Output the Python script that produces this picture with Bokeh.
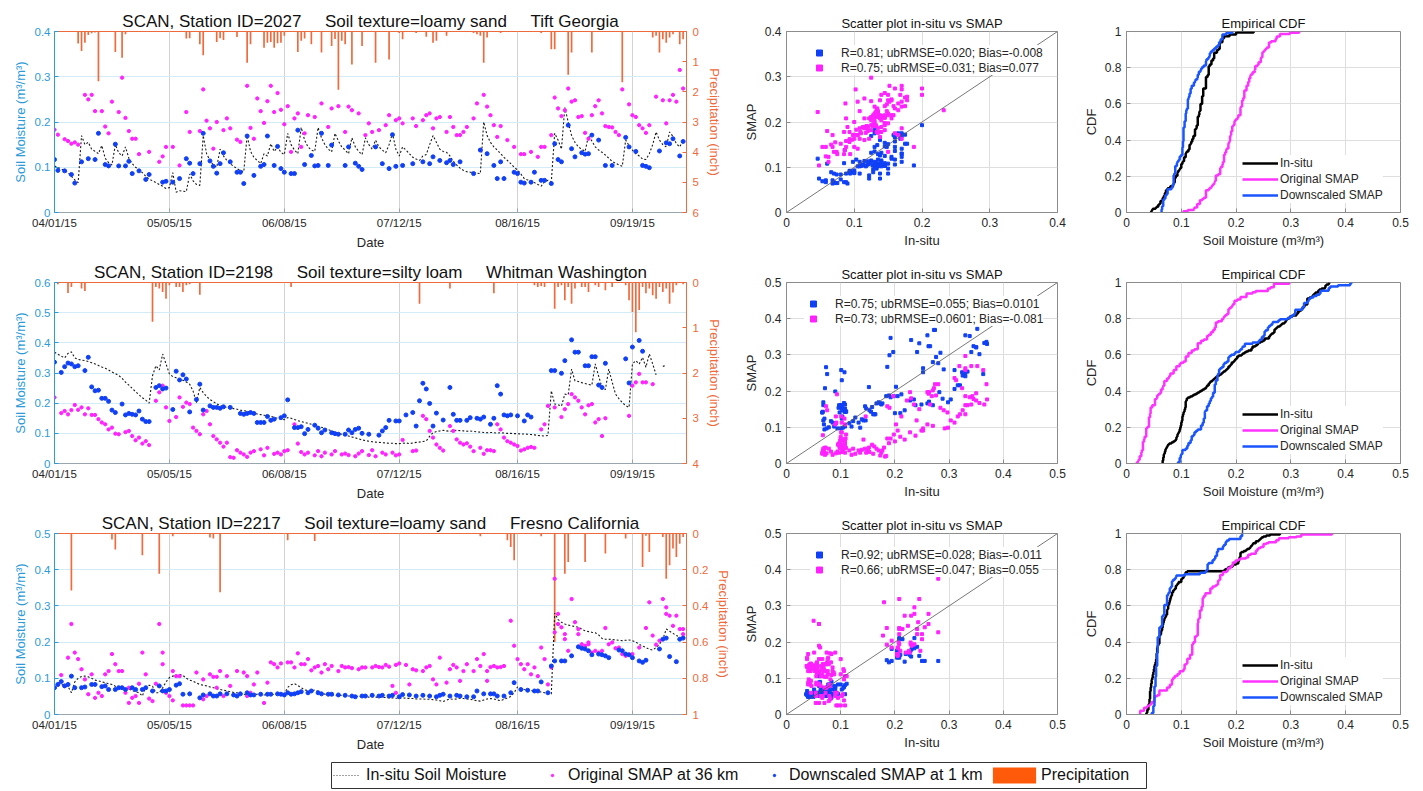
import numpy as np
from datetime import datetime, timedelta
from bokeh.plotting import figure
from bokeh.layouts import column, row
from bokeh.models import (Range1d, LinearAxis, FixedTicker, DatetimeTickFormatter,
                          NumeralTickFormatter, Legend, LegendItem, Slope, Spacer)
from bokeh.core.properties import value
from bokeh.embed import file_html
from bokeh.resources import INLINE

NAN = float("nan")
FONT = "Liberation Sans"

# ---------------------------------------------------------------- metadata
station_ids = ["2027", "2198", "2217"]
soil_textures = ["loamy sand", "silty loam", "loamy sand"]
locations = ["Tift Georgia", "Whitman Washington", "Fresno California"]
sm_max = [0.4, 0.6, 0.5]
precip_max = [6, 4, 1]
precip_ticks = [[0, 1, 2, 3, 4, 5, 6], [0, 1, 2, 3, 4], [0, 0.2, 0.4, 0.6, 0.8, 1]]
scatter_max = [0.4, 0.5, 0.5]
stats_down = ["R=0.81; ubRMSE=0.020; Bias=-0.008",
              "R=0.75; ubRMSE=0.055; Bias=0.0101",
              "R=0.92; ubRMSE=0.028; Bias=-0.011"]
stats_orig = ["R=0.75; ubRMSE=0.031; Bias=0.077",
              "R=0.73; ubRMSE=0.0601; Bias=-0.081",
              "R=0.66; ubRMSE=0.047; Bias=0.055"]
date_tick_labels = ["2015-04-01", "2015-05-05", "2015-06-08", "2015-07-12", "2015-08-16", "2015-09-19"]
start_date = "2015-04-01"
span_days = 187
legend_labels = ["In-situ Soil Moisture", "Original SMAP at 36 km", "Downscaled SMAP at 1 km", "Precipitation"]

# ---------------------------------------------------------------- station 2027 (Tift, Georgia)
insitu_2027 = [
    0.103, 0.100, 0.096, 0.093, 0.088, 0.080, 0.072, 0.066, 0.170, 0.150,
    0.155, 0.140, 0.135, 0.130, 0.148, 0.120, 0.110, 0.105, 0.150, 0.132,
    0.125, 0.145, 0.120, 0.108, 0.100, 0.094, 0.088, 0.080, 0.074, 0.070,
    0.066, 0.062, 0.058, 0.053, 0.055, 0.088, 0.045, 0.048, 0.047, 0.046,
    0.085, 0.070, 0.062, 0.060, 0.170, 0.130, 0.115, 0.105, 0.100, 0.140,
    0.125, 0.115, 0.108, 0.102, 0.097, 0.093, 0.090, 0.170, 0.135, 0.122,
    0.115, 0.108, 0.130, 0.125, 0.152, 0.135, 0.145, 0.133, 0.128, 0.175,
    0.150, 0.138, 0.130, 0.188, 0.160, 0.145, 0.138, 0.135, 0.188, 0.165,
    0.150, 0.140, 0.134, 0.175, 0.158, 0.145, 0.138, 0.130, 0.165, 0.145,
    0.135, 0.128, 0.165, 0.150, 0.140, 0.160, 0.145, 0.138, 0.132, 0.150,
    0.175, 0.140, 0.125, 0.145, 0.138, 0.130, 0.122, 0.118, 0.115, 0.125,
    0.128, 0.150, 0.170, 0.155, 0.140, 0.135, 0.133, 0.125, 0.113, 0.105,
    0.098, 0.093, 0.090, 0.089, 0.088, 0.087, 0.086, 0.200, 0.170, 0.155,
    0.145, 0.138, 0.130, 0.122, 0.115, 0.108, 0.100, 0.094, 0.085, 0.075,
    0.072, 0.070, 0.066, 0.062, 0.058, 0.068, 0.071, 0.068, 0.175, 0.160,
    0.140, 0.232, 0.200, 0.170, 0.155, 0.145, 0.140, 0.135, 0.170, 0.158,
    0.145, 0.138, 0.133, 0.127, 0.120, 0.113, 0.109, 0.105, 0.102, 0.160,
    0.148, 0.138, 0.130, 0.125, 0.118, 0.117, 0.130, 0.150, 0.178, 0.160,
    0.150, 0.145, 0.178, 0.168, 0.152, 0.145, 0.160]
# (day since 04/01/15, value)
smap36_2027 = [
    (0, .183), (1, .172), (3, .162), (4, .158), (5, .152), (6, .155), (7, .150), (9, .260), (10, .250),
    (11, .260), (12, .224), (14, .224), (15, .190), (16, .175), (17, .245), (19, .222), (20, .298),
    (21, .209), (22, .180), (23, .163), (24, .163), (25, .129), (28, .134), (31, .112), (32, .124),
    (33, .145), (35, .145), (37, .104), (39, .222), (40, .178), (43, .180), (44, .272), (45, .203),
    (46, .186), (47, .141), (48, .200), (50, .182), (51, .208), (52, .186), (54, .161), (55, .156),
    (57, .280), (58, .187), (59, .163), (60, .252), (61, .224), (62, .198), (63, .246), (64, .280),
    (65, .222), (66, .264), (67, .227), (68, .195), (69, .235), (70, .134), (71, .208), (72, .219),
    (73, .145), (74, .175), (75, .215), (77, .211), (79, .241), (81, .189), (82, .230), (84, .235),
    (86, .178), (87, .234), (88, .226), (90, .219), (92, .171), (93, .197), (94, .178), (96, .182),
    (98, .193), (99, .215), (101, .204), (102, .208), (103, .197), (106, .208), (107, .191),
    (109, .204), (110, .215), (111, .219), (112, .186), (113, .208), (114, .211), (116, .178),
    (117, .211), (118, .189), (119, .171), (120, .171), (121, .178), (122, .189), (124, .208),
    (125, .241), (126, .138), (127, .260), (128, .234), (129, .215), (130, .193), (131, .167),
    (132, .191), (134, .160), (136, .145), (138, .129), (139, .129), (141, .134), (143, .123),
    (144, .145), (145, .145), (147, .171), (148, .254), (149, .230), (150, .213), (151, .226),
    (152, .274), (153, .245), (154, .248), (155, .211), (156, .213), (157, .176), (158, .163),
    (159, .215), (160, .235), (161, .248), (162, .219), (163, .191), (164, .189), (165, .188),
    (166, .178), (167, .171), (168, .272), (170, .239), (171, .215), (172, .211), (173, .193),
    (174, .186), (175, .176), (176, .193), (178, .256), (180, .248), (181, .197), (182, .248),
    (183, .260), (184, .245), (185, .315), (186, .274)]
smap1_2027 = [
    (0, .117), (1, .093), (3, .092), (5, .084), (6, .065), (8, .112), (10, .119), (12, .117), (13, .175),
    (15, .106), (16, .103), (18, .151), (19, .103), (21, .103), (22, .113), (23, .086), (25, .092),
    (27, .073), (28, .084), (32, .067), (33, .069), (35, .067), (37, .075), (39, .119), (40, .109),
    (41, .086), (43, .108), (44, .175), (46, .114), (47, .102), (48, .087), (49, .108), (50, .132),
    (52, .112), (54, .089), (55, .089), (56, .064), (57, .169), (59, .082), (61, .102), (62, .106),
    (63, .169), (65, .104), (66, .146), (67, .097), (68, .089), (70, .086), (71, .086), (72, .182),
    (74, .106), (76, .126), (77, .103), (78, .104), (79, .175), (81, .104), (82, .149), (86, .104),
    (87, .145), (89, .109), (90, .102), (91, .095), (95, .145), (97, .108), (99, .097), (100, .172),
    (101, .102), (103, .104), (106, .108), (109, .112), (111, .108), (112, .123), (114, .115),
    (116, .110), (117, .115), (118, .106), (120, .112), (124, .086), (126, .138), (128, .130),
    (130, .104), (131, .075), (132, .112), (133, .075), (136, .089), (137, .086), (138, .067),
    (139, .065), (141, .067), (142, .089), (144, .071), (145, .071), (147, .064), (148, .152),
    (149, .117), (150, .112), (152, .193), (153, .141), (154, .123), (156, .132), (157, .129),
    (158, .130), (159, .171), (161, .160), (163, .104), (165, .104), (169, .166), (170, .145),
    (172, .135), (174, .104), (175, .102), (176, .099), (179, .136), (181, .154), (182, .152),
    (183, .163), (185, .125), (186, .157)]
precip_2027 = [
    (7, 0.40), (8, 0.65), (9, 0.37), (10, 0.12), (11, 0.06), (12, 0.03), (13, 1.65), (18, 0.68),
    (20, 0.87), (21, 0.09), (39, 0.23), (40, 0.22), (43, 0.42), (44, 0.79), (48, 0.35), (49, 0.22),
    (50, 0.28), (54, 0.18), (57, 1.04), (58, 0.42), (62, 0.54), (63, 0.37), (64, 0.35), (65, 0.54),
    (66, 0.39), (67, 0.37), (68, 0.14), (72, 0.68), (73, 0.31), (74, 0.23), (76, 0.42), (79, 0.70),
    (82, 0.48), (83, 0.25), (84, 1.93), (85, 0.31), (86, 0.42), (88, 1.09), (91, 0.48), (95, 1.04),
    (99, 0.93), (102, 0.05), (103, 0.26), (107, 0.05), (110, 0.17), (112, 0.37), (113, 0.31),
    (116, 0.14), (124, 0.05), (125, 0.09), (126, 0.14), (127, 1.04), (128, 0.20), (132, 0.05),
    (144, 0.05), (147, 0.59), (148, 0.59), (152, 1.43), (153, 0.70), (159, 0.70), (168, 1.68),
    (177, 0.20), (178, 0.14), (179, 0.70), (180, 0.26), (181, 0.37), (182, 0.20), (183, 0.09),
    (185, 0.42), (186, 0.26)]

# ---------------------------------------------------------------- station 2198 (Whitman, Washington)
insitu_2198 = [
    0.369, 0.362, 0.356, 0.350, 0.365, 0.370, 0.350, 0.345, 0.343, 0.341,
    0.338, 0.334, 0.330, 0.325, 0.320, 0.316, 0.310, 0.303, 0.298, 0.292,
    0.282, 0.270, 0.260, 0.249, 0.238, 0.228, 0.218, 0.210, 0.200, 0.291,
    0.324, 0.310, 0.363, 0.330, 0.297, 0.288, 0.284, 0.280, 0.276, 0.270,
    0.263, 0.240, 0.202, 0.252, 0.235, 0.222, 0.212, 0.205, 0.198, 0.192,
    0.189, 0.186, 0.184, 0.182, 0.180, 0.177, 0.175, 0.173, 0.170, 0.166,
    0.164, 0.162, 0.160, 0.158, 0.156, 0.153, 0.150, 0.147, 0.145, 0.152,
    0.150, 0.146, 0.142, 0.139, 0.136, 0.133, 0.130, 0.127, 0.123, 0.120,
    0.116, 0.112, 0.108, 0.104, 0.100, 0.097, 0.094, 0.091, 0.088, 0.085,
    0.082, 0.078, 0.076, 0.074, 0.072, 0.071, 0.070, 0.069, 0.068, 0.067,
    0.067, 0.066, 0.066, 0.067, 0.068, 0.066, 0.068, 0.070, 0.071, 0.073,
    0.075, 0.090, 0.102, 0.106, 0.108, 0.110, 0.108, 0.107, 0.108, 0.110,
    0.109, 0.108, 0.107, 0.108, 0.106, 0.105, 0.104, 0.103, 0.102, 0.103,
    0.102, 0.101, 0.102, 0.101, 0.100, 0.100, 0.099, 0.099, 0.098, 0.098,
    0.097, 0.096, 0.095, 0.093, 0.092, 0.091, 0.093, 0.241, 0.197, 0.195,
    0.190, 0.230, 0.228, 0.313, 0.274, 0.272, 0.268, 0.265, 0.262, 0.260,
    0.330, 0.290, 0.252, 0.245, 0.313, 0.270, 0.230, 0.215, 0.202, 0.192,
    0.186, 0.330, 0.341, 0.330, 0.352, 0.319, 0.363, 0.330, 0.294, NAN,
    0.322, 0.326, NAN, NAN, NAN, NAN, NAN]
smap36_2198 = [
    (0, .219), (2, .167), (3, .174), (4, .163), (5, .177), (6, .194), (7, .178), (8, .186), (9, .163),
    (10, .183), (11, .161), (12, .161), (13, .147), (14, .136), (15, .130), (16, .113), (17, .119),
    (18, .099), (19, .097), (21, .104), (22, .108), (23, .091), (24, .077), (25, .086), (26, .066),
    (27, .074), (28, .061), (30, .208), (31, .236), (32, .258), (33, .186), (34, .141), (36, .154),
    (37, .219), (38, .188), (39, .202), (40, .197), (41, .119), (42, .108), (43, .097), (44, .163),
    (45, .174), (46, .130), (47, .091), (48, .080), (49, .069), (50, .056), (51, .069), (52, .021),
    (53, .019), (54, .044), (55, .036), (56, .030), (57, .022), (58, .036), (59, .041), (61, .047),
    (62, .027), (63, .052), (65, .032), (66, .036), (67, .030), (68, .041), (69, .044), (71, .130),
    (72, .066), (73, .038), (74, .030), (75, .036), (77, .027), (78, .041), (79, .024), (80, .036),
    (82, .030), (83, .041), (85, .030), (86, .033), (87, .028), (89, .024), (90, .033), (91, .041),
    (93, .028), (94, .044), (95, .024), (97, .036), (98, .030), (100, .036), (101, .027), (102, .030),
    (103, .078), (106, .041), (107, .043), (109, .158), (110, .147), (111, .108), (112, .086),
    (113, .063), (114, .052), (115, .043), (117, .124), (118, .108), (119, .080), (120, .069),
    (121, .063), (122, .067), (123, .056), (124, .041), (126, .052), (127, .032), (128, .044),
    (129, .044), (130, .041), (131, .130), (132, .113), (133, .086), (134, .074), (135, .069),
    (136, .063), (137, .058), (138, .043), (139, .047), (140, .052), (141, .055), (142, .052),
    (144, .113), (145, .130), (146, .191), (148, .186), (150, .154), (151, .180), (152, .197),
    (153, .230), (154, .219), (155, .208), (156, .186), (157, .163), (158, .193), (159, .197),
    (160, .136), (161, .147), (162, .091), (163, .150), (170, .158), (171, .258), (172, .269),
    (173, .297), (174, .269), (175, .269), (177, .263)]
smap1_2198 = [
    (0, .336), (2, .302), (3, .321), (4, .333), (5, .330), (6, .321), (7, .324), (9, .308), (10, .352),
    (11, .254), (12, .241), (13, .243), (14, .216), (15, .216), (16, .206), (17, .177), (18, .169),
    (20, .197), (21, .161), (22, .166), (23, .163), (24, .161), (25, .174), (26, .147), (27, .139),
    (28, .139), (30, .252), (31, .258), (32, .247), (33, .250), (35, .179), (36, .306), (37, .277),
    (38, .294), (39, .280), (40, .171), (42, .212), (43, .263), (44, .177), (46, .191), (47, .186),
    (48, .186), (49, .183), (50, .188), (52, .186), (55, .166), (56, .163), (57, .166), (58, .169),
    (59, .166), (60, .136), (61, .136), (62, .136), (63, .156), (64, .143), (65, .147), (67, .152),
    (68, .158), (69, .211), (71, .119), (72, .119), (73, .122), (74, .099), (75, .113), (77, .127),
    (78, .117), (79, .102), (80, .111), (82, .102), (83, .099), (84, .097), (86, .097), (87, .111),
    (88, .102), (89, .113), (90, .117), (91, .100), (93, .097), (96, .094), (97, .108), (98, .119),
    (99, .143), (101, .141), (102, .141), (104, .161), (106, .169), (107, .124), (108, .208),
    (109, .266), (110, .247), (111, .199), (112, .124), (113, .167), (115, .144), (117, .252),
    (118, .163), (119, .143), (120, .143), (122, .143), (123, .152), (125, .150), (126, .147),
    (127, .154), (129, .130), (130, .150), (131, .258), (132, .230), (133, .161), (134, .158),
    (135, .161), (137, .158), (139, .141), (140, .161), (141, .154), (147, .308), (148, .308),
    (150, .299), (151, .341), (153, .410), (154, .369), (155, .369), (157, .324), (158, .324),
    (159, .354), (160, .354), (161, .260), (162, .252), (163, .332), (169, .347), (170, .267),
    (171, .386), (173, .408), (174, .372)]
precip_2198 = [
    (1, 0.04), (4, 0.23), (5, 0.10), (8, 0.13), (9, 0.19), (29, 0.87), (30, 0.10), (31, 0.13),
    (32, 0.21), (33, 0.36), (34, 0.06), (36, 0.10), (37, 0.10), (38, 0.21), (39, 0.06), (40, 0.04),
    (43, 0.27), (70, 0.10), (108, 0.47), (117, 0.13), (130, 0.24), (142, 0.06), (143, 0.10),
    (144, 0.08), (145, 0.10), (148, 0.58), (149, 0.10), (150, 0.06), (151, 0.39), (152, 0.10),
    (153, 0.47), (154, 0.13), (156, 0.10), (157, 0.10), (158, 0.21), (160, 0.06), (161, 0.10),
    (163, 0.17), (165, 0.10), (169, 0.06), (170, 0.39), (171, 0.65), (172, 1.10), (173, 0.61),
    (174, 0.10), (175, 0.24), (176, 0.13), (177, 0.28), (178, 0.36), (179, 0.10), (180, 0.21),
    (181, 0.13), (182, 0.47), (183, 0.22), (184, 0.06), (186, 0.04)]

# ---------------------------------------------------------------- station 2217 (Fresno, California)
insitu_2217 = [
    0.074, 0.079, 0.083, 0.080, 0.077, 0.060, 0.090, 0.100, 0.105, 0.106,
    0.104, 0.100, 0.095, 0.093, 0.090, 0.088, 0.085, 0.083, 0.078, 0.074,
    0.076, 0.072, 0.070, 0.066, 0.063, 0.060, 0.051, 0.076, 0.081, 0.078,
    0.060, 0.060, 0.074, 0.090, 0.102, 0.106, 0.108, 0.111, 0.108, 0.100,
    0.095, 0.092, 0.087, 0.083, 0.081, 0.079, 0.076, 0.074, 0.071, 0.069,
    0.067, 0.065, 0.063, 0.061, 0.060, 0.058, 0.056, 0.055, 0.054, 0.055,
    0.056, 0.055, 0.054, 0.055, 0.056, 0.055, 0.056, 0.056, 0.057, 0.075,
    0.082, 0.085, 0.080, 0.074, 0.068, 0.066, 0.065, 0.068, 0.064, 0.060,
    0.056, 0.055, 0.054, 0.053, 0.052, 0.053, 0.052, 0.051, 0.051, 0.050,
    0.050, 0.049, 0.049, 0.048, 0.049, 0.048, 0.048, 0.047, 0.047, 0.046,
    0.046, 0.045, 0.045, 0.046, 0.045, 0.044, 0.044, 0.043, 0.043, 0.043,
    0.042, 0.042, 0.041, 0.040, 0.038, 0.036, 0.040, 0.043, 0.042, 0.043,
    0.045, 0.044, 0.043, 0.042, 0.040, 0.038, 0.037, 0.040, 0.043, 0.044,
    0.043, 0.040, 0.038, 0.042, 0.046, 0.050, 0.060, 0.076, 0.072, 0.069,
    0.067, 0.066, 0.065, 0.063, 0.062, 0.060, 0.058, 0.057, 0.280, 0.262,
    0.255, 0.250, 0.247, 0.245, 0.243, 0.241, 0.236, 0.231, 0.229, 0.227,
    0.226, 0.220, 0.210, 0.208, 0.208, 0.207, 0.206, 0.205, 0.204, 0.205,
    0.206, 0.204, 0.200, 0.194, 0.189, 0.185, 0.180, 0.178, 0.185, 0.194,
    0.208, 0.236, 0.230, 0.224, 0.218, 0.214, 0.208]
smap36_2217 = [
    (0, .074), (1, .083), (2, .109), (3, .079), (4, .157), (5, .250), (6, .171), (7, .153), (8, .125),
    (9, .097), (10, .056), (11, .111), (12, .046), (13, .060), (14, .051), (15, .111), (16, .120),
    (17, .167), (18, .139), (19, .120), (20, .120), (21, .060), (22, .074), (22, .032), (23, .046),
    (24, .051), (25, .032), (25, .085), (26, .171), (27, .111), (28, .044), (29, .037), (30, .085),
    (31, .250), (32, .171), (32, .139), (33, .060), (34, .051), (35, .039), (35, .120), (36, .106),
    (37, .106), (38, .025), (39, .025), (40, .025), (41, .025), (42, .116), (44, .097), (44, .042),
    (45, .051), (46, .111), (47, .104), (48, .104), (48, .074), (49, .120), (50, .051), (51, .106),
    (52, .079), (54, .120), (56, .116), (57, .106), (57, .051), (58, .060), (59, .083), (60, .116),
    (62, .032), (63, .088), (64, .144), (65, .139), (66, .130), (67, .141), (69, .144), (70, .144),
    (71, .130), (72, .169), (73, .139), (74, .139), (75, .153), (76, .122), (77, .130), (78, .134),
    (79, .116), (80, .139), (81, .125), (82, .134), (84, .120), (85, .134), (86, .130), (87, .131),
    (88, .128), (90, .125), (91, .130), (92, .130), (94, .130), (95, .134), (96, .131), (97, .130),
    (98, .137), (99, .132), (100, .079), (101, .137), (101, .060), (102, .141), (104, .137),
    (105, .083), (106, .125), (107, .122), (109, .120), (110, .130), (111, .134), (112, .097),
    (113, .083), (114, .157), (116, .088), (117, .125), (118, .137), (119, .130), (120, .093),
    (121, .120), (122, .139), (124, .120), (125, .153), (126, .134), (127, .167), (128, .093),
    (128, .120), (129, .131), (130, .134), (131, .130), (132, .131), (133, .134), (135, .259),
    (136, .190), (137, .153), (138, .139), (139, .125), (140, .139), (141, .111), (142, .130),
    (143, .106), (144, .185), (145, .153), (146, .083), (147, .130), (148, .227), (148, .375),
    (149, .278), (149, .250), (150, .241), (151, .222), (151, .208), (152, .176), (153, .319),
    (154, .255), (155, .236), (155, .222), (156, .194), (157, .190), (158, .194), (158, .199),
    (159, .171), (160, .176), (161, .171), (162, .176), (163, .239), (164, .194), (165, .199),
    (166, .183), (167, .185), (168, .167), (169, .162), (170, .165), (171, .167), (173, .185),
    (175, .239), (176, .310), (177, .218), (178, .193), (179, .204), (180, .319), (181, .278),
    (181, .296), (182, .273), (183, .245), (184, .273), (185, .236), (186, .236), (186, .222)]
smap1_2217 = [
    (0, .074), (1, .083), (2, .091), (3, .079), (4, .083), (5, .106), (6, .074), (8, .074), (9, .076),
    (11, .083), (12, .083), (14, .077), (15, .079), (16, .069), (18, .069), (19, .074), (20, .074),
    (21, .069), (23, .074), (24, .069), (26, .069), (27, .074), (29, .065), (31, .079), (32, .065),
    (33, .065), (34, .069), (36, .081), (37, .085), (38, .056), (40, .057), (43, .046), (44, .054),
    (46, .057), (47, .051), (48, .051), (49, .057), (51, .057), (53, .054), (54, .051), (55, .057),
    (57, .060), (58, .054), (59, .054), (61, .056), (63, .056), (64, .056), (66, .057), (67, .056),
    (68, .054), (69, .060), (70, .056), (71, .057), (72, .060), (73, .063), (75, .060), (76, .065),
    (78, .060), (79, .057), (81, .056), (82, .056), (84, .054), (86, .053), (88, .051), (89, .049),
    (91, .051), (92, .051), (94, .053), (96, .051), (97, .053), (99, .051), (100, .053), (102, .049),
    (103, .055), (105, .054), (107, .051), (109, .053), (111, .051), (113, .049), (114, .053),
    (115, .056), (117, .051), (119, .053), (120, .051), (122, .049), (124, .049), (125, .065),
    (127, .057), (129, .057), (130, .057), (131, .051), (133, .051), (135, .060), (136, .088),
    (138, .069), (140, .067), (142, .065), (143, .065), (144, .090), (146, .060), (147, .134),
    (148, .148), (150, .148), (151, .148), (153, .162), (155, .187), (156, .183), (157, .181),
    (158, .176), (159, .165), (161, .167), (162, .165), (163, .162), (164, .157), (167, .178),
    (168, .176), (169, .167), (170, .165), (171, .157), (173, .148), (174, .144), (175, .150),
    (179, .181), (180, .208), (181, .211), (182, .160), (184, .146), (185, .208), (186, .211)]
precip_2217 = [
    (5, 0.315), (17, 0.033), (18, 0.089), (26, 0.12), (31, 0.222), (35, 0.015), (46, 0.022),
    (47, 0.028), (49, 0.324), (69, 0.037), (77, 0.041), (126, 0.015), (134, 0.037), (135, 0.074),
    (136, 0.148), (144, 0.015), (148, 0.60), (151, 0.222), (152, 0.157), (157, 0.157),
    (163, 0.111), (169, 0.028), (174, 0.185), (175, 0.012), (176, 0.102), (180, 0.020),
    (181, 0.25), (182, 0.176), (183, 0.083), (184, 0.13), (185, 0.056), (186, 0.020)]

insitu_all = [insitu_2027, insitu_2198, insitu_2217]
smap36_all = [smap36_2027, smap36_2198, smap36_2217]
smap1_all = [smap1_2027, smap1_2198, smap1_2217]
precip_all = [precip_2027, precip_2198, precip_2217]

# ---------------------------------------------------------------- styling
C_LEFT = "#2c9bd8"
C_RIGHT = "#ee6a3c"
C_BAR = "#f06a3d"
C_BLUE = "#1040f5"
C_MAG = "#ff22ff"
C_TEXT = "#262626"
C_BOX = "#8c8c8c"
C_GRID = "#dedede"

START = datetime.strptime(start_date, "%Y-%m-%d")
EPOCH = datetime(1970, 1, 1)
DAY_MS = 86400000.0


def to_ms(dt):
    return (dt - EPOCH).total_seconds() * 1000.0


def style_axis(ax, line_c, text_c, tick_size, label_size, std_major=4, std_label=4):
    ax.axis_line_color = line_c
    ax.major_tick_line_color = line_c
    ax.major_tick_in = 4
    ax.major_tick_out = 0
    ax.minor_tick_line_color = None
    ax.major_label_text_font = FONT
    ax.major_label_text_font_size = tick_size
    ax.major_label_text_color = text_c
    ax.major_label_standoff = std_major
    ax.axis_label_text_font = FONT
    ax.axis_label_text_font_size = label_size
    ax.axis_label_text_font_style = "normal"
    ax.axis_label_text_color = text_c
    ax.axis_label_standoff = std_label


def style_title(p, size, standoff):
    p.title.text_font = FONT
    p.title.text_font_size = size
    p.title.text_font_style = "normal"
    p.title.text_color = "#111111"
    p.title.align = "center"
    p.title.standoff = standoff


def make_ts(i):
    insitu = insitu_all[i]
    dates = [START + timedelta(days=k) for k in range(len(insitu))]
    p = figure(width=732, height=251, x_axis_type="datetime",
               x_range=Range1d(START, START + timedelta(days=span_days)),
               y_range=Range1d(0, sm_max[i]),
               min_border_left=46, min_border_right=54, min_border_top=23, min_border_bottom=47,
               output_backend="svg", toolbar_location=None)
    p.title.text = ("SCAN, Station ID=" + station_ids[i] + "\u00a0" * 5 + "Soil texture="
                    + soil_textures[i] + "\u00a0" * 5 + locations[i])
    style_title(p, "17px", 2)
    p.extra_y_ranges = {"precip": Range1d(start=precip_max[i], end=0)}

    pr = precip_all[i]
    p.vbar(x=[START + timedelta(days=d) for d, _ in pr], width=0.5 * DAY_MS, top=0,
           bottom=[v for _, v in pr], y_range_name="precip", fill_color=C_BAR, line_color=None)
    p.line(dates, insitu, line_color="#1a1a1a", line_width=1.1, line_dash="2 2")
    s36 = smap36_all[i]
    p.scatter([START + timedelta(days=d) for d, _ in s36], [v for _, v in s36],
              marker="circle", size=3.3, color=C_MAG)
    s1 = smap1_all[i]
    p.scatter([START + timedelta(days=d) for d, _ in s1], [v for _, v in s1],
              marker="circle", size=4.0, color=C_BLUE)

    xa = p.xaxis[0]
    xa.ticker = FixedTicker(ticks=[to_ms(datetime.strptime(s, "%Y-%m-%d")) for s in date_tick_labels])
    fmt = "%m/%d/%y"
    xa.formatter = DatetimeTickFormatter(days=fmt, months=fmt, years=fmt, hours=fmt, hourmin=fmt)
    xa.axis_label = "Date"
    style_axis(xa, "#9aa6ae", C_TEXT, "11.5px", "13px", 4, 3)

    ya = p.yaxis[0]
    n = int(round(sm_max[i] * 10))
    ya.ticker = FixedTicker(ticks=[round(0.1 * k, 1) for k in range(n + 1)])
    ya.formatter = NumeralTickFormatter(format="0.[0]")
    ya.axis_label = "Soil Moisture (m\u00b3/m\u00b3)"
    style_axis(ya, C_LEFT, C_LEFT, "11.5px", "13px", 4, 4)

    ra = LinearAxis(y_range_name="precip", axis_label="Precipitation (inch)",
                    ticker=FixedTicker(ticks=precip_ticks[i]),
                    formatter=NumeralTickFormatter(format="0.[0]"))
    style_axis(ra, C_RIGHT, C_RIGHT, "11.5px", "13px", 6, 5)
    p.add_layout(ra, "right")

    p.xgrid.grid_line_color = "#d2d2d2"
    p.ygrid.grid_line_color = "#d3eaf7"
    p.outline_line_color = C_RIGHT
    p.outline_line_width = 1
    return p


def pairs_vs_insitu(insitu, obs):
    xs, ys = [], []
    for d, v in obs:
        if d < len(insitu) and not np.isnan(insitu[d]):
            xs.append(insitu[d])
            ys.append(v)
    return xs, ys


def style_box(p):
    p.outline_line_color = C_BOX
    p.xgrid.grid_line_color = C_GRID
    p.ygrid.grid_line_color = C_GRID


def make_scatter(i):
    m = scatter_max[i]
    p = figure(width=330, height=251, x_range=Range1d(0, m), y_range=Range1d(0, m),
               min_border_left=41, min_border_right=13, min_border_top=23, min_border_bottom=47,
               output_backend="svg", toolbar_location=None)
    p.title.text = "Scatter plot in-situ vs SMAP"
    style_title(p, "13px", 2)
    xb, yb = pairs_vs_insitu(insitu_all[i], smap1_all[i])
    xm, ym = pairs_vs_insitu(insitu_all[i], smap36_all[i])
    rb = p.scatter(xb, yb, marker="square", size=3.0, color=C_BLUE)
    rm = p.scatter(xm, ym, marker="square", size=3.0, color=C_MAG)
    p.add_layout(Slope(gradient=1, y_intercept=0, line_color="#555555", line_width=0.8))
    ticks = [round(0.1 * k, 1) for k in range(int(round(m * 10)) + 1)]
    for ax in (p.xaxis[0], p.yaxis[0]):
        ax.ticker = FixedTicker(ticks=ticks)
        ax.formatter = NumeralTickFormatter(format="0.[0]")
        style_axis(ax, C_BOX, C_TEXT, "12px", "13px", 5, 3)
    p.xaxis[0].axis_label = "In-situ"
    p.yaxis[0].axis_label = "SMAP"
    style_box(p)
    lx = 24 if i != 1 else 18
    leg = Legend(items=[LegendItem(label=value(stats_down[i]), renderers=[rb]),
                        LegendItem(label=value(stats_orig[i]), renderers=[rm])],
                 location=(lx, 137), padding=3, spacing=0, margin=0,
                 glyph_width=18, glyph_height=15, label_height=15, label_standoff=13,
                 border_line_color=None, background_fill_color="white", background_fill_alpha=1.0,
                 label_text_font=FONT, label_text_font_size="12px", label_text_color=C_TEXT)
    p.add_layout(leg)
    return p


def ecdf(vals):
    v = np.sort(np.array([x for x in vals if not np.isnan(x)]))
    n = len(v)
    xs = np.concatenate([[v[0]], v])
    ys = np.concatenate([[0.0], np.arange(1, n + 1) / n])
    return xs, ys


def make_cdf(i):
    p = figure(width=345, height=251, x_range=Range1d(0, 0.5), y_range=Range1d(0, 1),
               min_border_left=56, min_border_right=15, min_border_top=23, min_border_bottom=47,
               output_backend="svg", toolbar_location=None)
    p.title.text = "Empirical CDF"
    style_title(p, "13px", 2)
    x0, y0 = ecdf(insitu_all[i])
    x1, y1 = ecdf([v for _, v in smap36_all[i]])
    x2, y2 = ecdf([v for _, v in smap1_all[i]])
    r0 = p.step(x0, y0, mode="after", line_color="#000000", line_width=2.5)
    r1 = p.step(x1, y1, mode="after", line_color="#ff33ff", line_width=2.5)
    r2 = p.step(x2, y2, mode="after", line_color="#1a55ff", line_width=2.5)
    xa, ya = p.xaxis[0], p.yaxis[0]
    xa.ticker = FixedTicker(ticks=[0, 0.1, 0.2, 0.3, 0.4, 0.5])
    ya.ticker = FixedTicker(ticks=[0, 0.2, 0.4, 0.6, 0.8, 1])
    for ax in (xa, ya):
        ax.formatter = NumeralTickFormatter(format="0.[0]")
        style_axis(ax, C_BOX, C_TEXT, "12px", "13px", 5, 3)
    xa.axis_label = "Soil Moisture (m\u00b3/m\u00b3)"
    ya.axis_label = "CDF"
    style_box(p)
    leg = Legend(items=[LegendItem(label=value("In-situ"), renderers=[r0]),
                        LegendItem(label=value("Original SMAP"), renderers=[r1]),
                        LegendItem(label=value("Downscaled SMAP"), renderers=[r2])],
                 location=(116, 9), padding=1, spacing=0, margin=0,
                 glyph_width=36, glyph_height=16, label_height=16, label_standoff=2,
                 border_line_color=None, background_fill_color="white", background_fill_alpha=1.0,
                 label_text_font=FONT, label_text_font_size="12px", label_text_color=C_TEXT)
    p.add_layout(leg)
    return p


def make_bottom_legend():
    p = figure(width=817, height=28, x_range=Range1d(0, 1), y_range=Range1d(0, 1),
               min_border=1, min_border_left=1, min_border_right=1, min_border_top=1,
               min_border_bottom=1, x_axis_location=None, y_axis_location=None,
               output_backend="svg", toolbar_location=None)
    p.xgrid.visible = False
    p.ygrid.visible = False
    p.outline_line_color = "#333333"
    # legend proxies: each holds one sample placed outside the visible range
    r_line = p.line(x=[5, 6], y=[5, 5], line_color="#444444", line_width=1, line_dash="1 2")
    r_mag = p.scatter(x=[5], y=[5], marker="circle", size=3, color=C_MAG)
    r_blue = p.scatter(x=[5], y=[5], marker="circle", size=3, color=C_BLUE)
    r_bar = p.vbar(x=[5], top=[6], bottom=[5], width=0.1, fill_color="#ff5a0a", line_color=None)
    specs = [(legend_labels[0], r_line, 2, 27, 6),
             (legend_labels[1], r_mag, 218, 6, 13),
             (legend_labels[2], r_blue, 440, 6, 12),
             (legend_labels[3], r_bar, 656, 54, 0)]
    for label, r, x, gw, so in specs:
        lg = Legend(items=[LegendItem(label=value(label), renderers=[r])],
                    location=(x, 3), padding=0, spacing=0, margin=0,
                    glyph_width=gw, glyph_height=20, label_height=20, label_standoff=so,
                    border_line_color=None, background_fill_alpha=0,
                    label_text_font=FONT, label_text_font_size="16px", label_text_color="#111111")
        p.add_layout(lg)
    return p


rows = [row(make_ts(i), make_scatter(i), make_cdf(i)) for i in range(3)]
body = column(*rows, row(Spacer(width=322, height=28), make_bottom_legend()))
layout = column(Spacer(width=10, height=8), row(Spacer(width=8, height=10), body))

html = file_html(layout, INLINE, "SMAP soil moisture")
open("out.html", "w").write(html)
